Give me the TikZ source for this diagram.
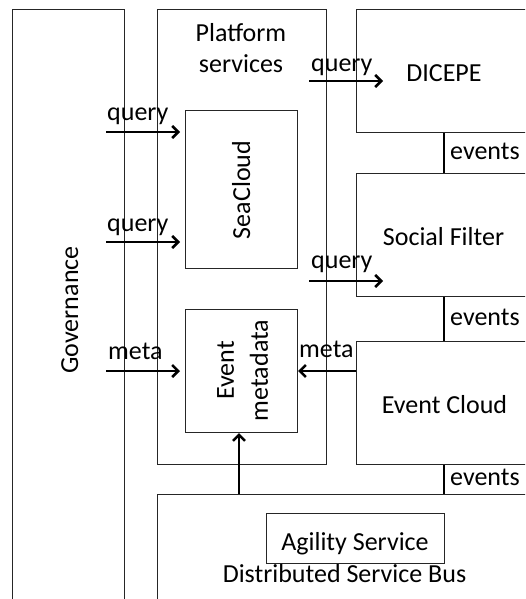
\documentclass[tikz,border=0pt]{standalone}
\usepackage{fontspec}
\setmainfont{Carlito}
\usetikzlibrary{arrows.meta,calc}
\begin{document}
\begin{tikzpicture}[x=1pt,y=-1pt,
  box/.style={draw=black!85, line width=1pt, inner sep=0pt, anchor=north west},
  txt/.style={font=\fontsize{26}{31}\selectfont, inner sep=0pt, text=black},
  arr/.style={line width=2.8pt, draw=black, -{Straight Barb[length=6pt,width=12pt,line width=2.5pt]}},
  evline/.style={line width=2.8pt, draw=black}]
\useasboundingbox (0,0) rectangle (525,599);
\clip (0,0) rectangle (525,599);
% boxes
\node[box, minimum width=112pt, minimum height=592pt] (gov) at (12,9) {};
\node[box, minimum width=169pt, minimum height=455pt] (ps) at (157,9) {};
\node[box, minimum width=176pt, minimum height=123pt] (dicepe) at (356,9) {};
\node[box, minimum width=176pt, minimum height=123pt] (sf) at (356,173) {};
\node[box, minimum width=176pt, minimum height=123pt] (ec) at (356,341) {};
\node[box, minimum width=400pt, minimum height=120pt] (dsb) at (157,494) {};
\node[box, minimum width=112pt, minimum height=158pt] (sea) at (185,110) {};
\node[box, minimum width=112pt, minimum height=123pt] (em) at (185,309) {};
\node[box, minimum width=178pt, minimum height=50pt] (as) at (266,513) {};
% texts
\node[txt, rotate=90, anchor=base] (govtext) at (78,310) {Governance};
\node[txt, align=center] (pstext) at (241,48) {Platform\\services};
\node[txt, anchor=base] (dicepetext) at (444,82) {DICEPE};
\node[txt, anchor=base] (sftext) at (443.5,245) {Social Filter};
\node[txt, anchor=base] (ectext) at (444.5,413) {Event Cloud};
\node[txt, anchor=base] (astext) at (355,550) {Agility Service};
\node[txt, anchor=base] (dsbtext) at (344.5,582) {Distributed Service Bus};
\node[txt, rotate=90, anchor=base] (seatext) at (250,190) {SeaCloud};
\node[txt, rotate=90, align=center, font=\fontsize{26}{34}\selectfont] (emtext) at (242.5,370.5) {Event\\metadata};
% connectors
\coordinate (q1) at (106,132);
\coordinate (q2) at (106,242);
\coordinate (ml) at (106,371);
\coordinate (qd1) at (309,81);
\coordinate (qd2) at (383,81);
\coordinate (qs1) at (309,281);
\coordinate (qs2) at (383,281);
\coordinate (mr) at (0,371);
\coordinate (upx) at (239,0);
\coordinate (evx) at (444,0);
\draw[arr, shorten >=5pt] (q1) -- (q1 -| sea.west);
\draw[arr, shorten >=5pt] (q2) -- (q2 -| sea.west);
\draw[arr, shorten >=5pt] (ml) -- (ml -| em.west);
\draw[arr] (qd1) -- (qd2);
\draw[arr] (qs1) -- (qs2);
\draw[arr] (ec.west |- mr) -- (em.east |- mr);
\draw[arr] (dsb.north -| upx) -- (em.south -| upx);
\draw[evline] (dicepe.south -| evx) -- (sf.north -| evx);
\draw[evline] (sf.south -| evx) -- (ec.north -| evx);
\draw[evline] (ec.south -| evx) -- (dsb.north -| evx);
% labels
\node[txt, anchor=base west] (lq1) at (107,121) {query};
\node[txt, anchor=base west] (lq2) at (107,231) {query};
\node[txt, anchor=base west] (lml) at (108,359) {meta};
\node[txt, anchor=base west] (lqd) at (311,72) {query};
\node[txt, anchor=base west] (lqs) at (311,268) {query};
\node[txt, anchor=base west] (lmr) at (299,357) {meta};
\node[txt, anchor=base west] (le1) at (450,159) {events};
\node[txt, anchor=base west] (le2) at (450,325) {events};
\node[txt, anchor=base west] (le3) at (450,485) {events};
\end{tikzpicture}
\end{document}
